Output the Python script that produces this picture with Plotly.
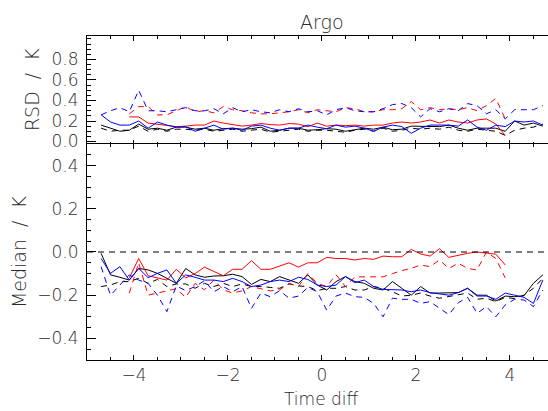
import plotly.graph_objects as go
from plotly.subplots import make_subplots

# Bin centres of the time difference
time_diff = [-4.7, -4.5, -4.3, -4.1, -3.9, -3.7, -3.5, -3.3, -3.1, -2.9, -2.7, -2.5,
             -2.3, -2.1, -1.9, -1.7, -1.5, -1.3, -1.1, -0.9, -0.7, -0.5, -0.3, -0.1,
             0.1, 0.3, 0.5, 0.7, 0.9, 1.1, 1.3, 1.5, 1.7, 1.9, 2.1, 2.3, 2.5, 2.7,
             2.9, 3.1, 3.3, 3.5, 3.7, 3.9, 4.1, 4.3, 4.5, 4.7]

# Robust standard deviation (K)
rsd_black_solid = [0.16, 0.13, 0.10, 0.11, 0.17, 0.12, 0.13, 0.11, 0.14, 0.14, 0.12, 0.13,
                   0.11, 0.125, 0.13, 0.12, 0.125, 0.14, 0.10, 0.11, 0.13, 0.13, 0.11, 0.115,
                   0.125, 0.12, 0.10, 0.115, 0.13, 0.12, 0.14, 0.115, 0.12, 0.15, 0.15, 0.145,
                   0.145, 0.16, 0.13, 0.11, 0.13, 0.13, 0.13, 0.10, 0.20, 0.16, 0.18, 0.15]
rsd_black_dash = [0.13, 0.10, 0.11, 0.11, 0.15, 0.10, 0.12, 0.10, 0.12, 0.12, 0.11, 0.12,
                  0.10, 0.11, 0.12, 0.10, 0.11, 0.12, 0.09, 0.10, 0.11, 0.12, 0.10, 0.11,
                  0.11, 0.10, 0.09, 0.11, 0.12, 0.10, 0.13, 0.10, 0.11, 0.13, 0.12, 0.13,
                  0.12, 0.14, 0.11, 0.10, 0.12, 0.11, 0.10, 0.06, 0.11, 0.13, 0.14, 0.17]
rsd_blue_solid = [0.26, 0.19, 0.16, 0.16, 0.20, 0.13, 0.19, 0.16, 0.14, 0.145, 0.10, 0.13,
                  0.16, 0.12, 0.13, 0.11, 0.15, 0.16, 0.13, 0.11, 0.13, 0.13, 0.16, 0.14,
                  0.125, 0.16, 0.14, 0.15, 0.13, 0.10, 0.14, 0.16, 0.145, 0.08, 0.13, 0.16,
                  0.16, 0.16, 0.15, 0.21, 0.14, 0.11, 0.16, 0.145, 0.20, 0.19, 0.20, 0.16]
rsd_blue_dash = [0.26, 0.30, 0.33, 0.29, 0.50, 0.30, 0.30, 0.29, 0.31, 0.33, 0.30, 0.30,
                 0.32, 0.27, 0.33, 0.29, 0.31, 0.29, 0.28, 0.31, 0.29, 0.32, 0.29, 0.30,
                 0.26, 0.31, 0.33, 0.30, 0.29, 0.29, 0.32, 0.36, 0.37, 0.33, 0.24, 0.32,
                 0.29, 0.32, 0.30, 0.37, 0.35, 0.27, 0.31, 0.22, 0.31, 0.31, 0.31, 0.35]
# red series only cover -4.1 ... 3.9
rsd_red_solid = [0.24, 0.24, 0.18, 0.17, 0.16, 0.145, 0.15, 0.16, 0.16, 0.20, 0.18, 0.165,
                 0.15, 0.16, 0.175, 0.165, 0.16, 0.175, 0.17, 0.145, 0.18,
                 0.15, 0.16, 0.155, 0.16, 0.15, 0.16, 0.16, 0.18, 0.19, 0.18, 0.19, 0.21,
                 0.18, 0.21, 0.19, 0.18, 0.21, 0.22, 0.17, 0.06]
rsd_red_dash = [0.27, 0.34, 0.34, 0.26, 0.26, 0.30, 0.34, 0.29, 0.30, 0.28, 0.34, 0.31,
                0.30, 0.28, 0.27, 0.27, 0.28, 0.29, 0.31, 0.28, 0.31,
                0.30, 0.29, 0.33, 0.32, 0.29, 0.29, 0.31, 0.31, 0.32, 0.39, 0.31, 0.33,
                0.31, 0.32, 0.31, 0.33, 0.30, 0.35, 0.42, 0.22]

# Median difference (K)
med_black_solid = [-0.006, -0.106, -0.117, -0.13, -0.076, -0.083, -0.099, -0.122, -0.145, -0.076,
                   -0.106, -0.117, -0.111, -0.11, -0.103, -0.114, -0.15, -0.127, -0.137, -0.114,
                   -0.13, -0.145, -0.106, -0.153,
                   -0.176, -0.137, -0.114, -0.137, -0.145, -0.168, -0.176, -0.137, -0.168, -0.2,
                   -0.16, -0.19, -0.19, -0.19, -0.188, -0.168, -0.2, -0.2, -0.227, -0.204,
                   -0.207, -0.202, -0.145, -0.106]
med_black_dash = [-0.16, -0.153, -0.137, -0.137, -0.122, -0.145, -0.127, -0.16, -0.148, -0.148,
                  -0.168, -0.145, -0.16, -0.145, -0.16, -0.148, -0.16, -0.16, -0.164, -0.168,
                  -0.148, -0.157, -0.16, -0.179,
                  -0.168, -0.168, -0.16, -0.176, -0.176, -0.16, -0.168, -0.184, -0.204, -0.2,
                  -0.19, -0.204, -0.214, -0.207, -0.2, -0.19, -0.219, -0.214, -0.23, -0.21,
                  -0.216, -0.2, -0.168, -0.122]
med_blue_solid = [-0.03, -0.099, -0.068, -0.13, -0.076, -0.119, -0.099, -0.083, -0.145, -0.106,
                  -0.117, -0.13, -0.13, -0.137, -0.122, -0.137, -0.16, -0.153, -0.137, -0.13,
                  -0.137, -0.117, -0.127, -0.153,
                  -0.16, -0.153, -0.114, -0.142, -0.13, -0.16, -0.173, -0.176, -0.176, -0.184,
                  -0.176, -0.188, -0.194, -0.2, -0.188, -0.168, -0.204, -0.204, -0.219, -0.19,
                  -0.2, -0.21, -0.238, -0.13]
med_blue_dash = [-0.068, -0.2, -0.153, -0.106, -0.13, -0.145, -0.2, -0.276, -0.157, -0.179,
                 -0.16, -0.133, -0.184, -0.16, -0.184, -0.16, -0.261, -0.19, -0.207, -0.179,
                 -0.214, -0.204, -0.164, -0.184,
                 -0.269, -0.204, -0.19, -0.207, -0.21, -0.238, -0.3, -0.214, -0.219, -0.219,
                 -0.238, -0.23, -0.26, -0.29, -0.235, -0.21, -0.284, -0.253, -0.3, -0.245,
                 -0.219, -0.222, -0.253, -0.176]
med_red_solid = [-0.12, -0.03, -0.11, -0.12, -0.13, -0.08, -0.12, -0.10, -0.07, -0.09, -0.11,
                 -0.08, -0.08, -0.04, -0.08, -0.08, -0.065, -0.05, -0.07, -0.05, -0.05,
                 -0.025, -0.03, -0.03, -0.037, -0.03, -0.034, -0.019, -0.022, -0.022, 0.012,
                 -0.009, -0.019, 0.015, -0.025, -0.014, -0.006, 0.0, -0.006, -0.01, -0.06]
med_red_dash = [-0.19, -0.05, -0.2, -0.19, -0.18, -0.17, -0.21, -0.145, -0.175, -0.13, -0.175,
                -0.19, -0.18, -0.16, -0.17, -0.18, -0.175, -0.145, -0.16, -0.1, -0.145,
                -0.16, -0.105, -0.16, -0.115, -0.115, -0.117, -0.115, -0.1, -0.086, -0.076,
                -0.06, -0.068, -0.037, -0.076, -0.052, -0.076, -0.083, 0.0, -0.03, -0.12]

RED_LEAD, RED_TAIL = 3, 4  # bins without red data at both ends


def pad_red(vals):
    return [None] * RED_LEAD + list(vals) + [None] * RED_TAIL


DASH = "6px,5px"
FONT = "DejaVu Sans"
INK = "#2a2a2a"
NB = "\u00a0"

fig = make_subplots(rows=2, cols=1, shared_xaxes=True, vertical_spacing=0)

panels = [
    (1, [(rsd_black_dash, "black", DASH), (rsd_black_solid, "black", "solid"),
         (pad_red(rsd_red_dash), "red", DASH), (pad_red(rsd_red_solid), "red", "solid"),
         (rsd_blue_dash, "blue", DASH), (rsd_blue_solid, "blue", "solid")]),
    (2, [(med_black_dash, "black", DASH), (med_black_solid, "black", "solid"),
         (pad_red(med_red_dash), "red", DASH), (pad_red(med_red_solid), "red", "solid"),
         (med_blue_dash, "blue", DASH), (med_blue_solid, "blue", "solid")]),
]
for row, series in panels:
    for vals, color, dash in series:
        fig.add_trace(
            go.Scatter(x=time_diff, y=vals, mode="lines", connectgaps=False,
                       line=dict(color=color, width=1, dash=dash),
                       hoverinfo="skip"),
            row=row, col=1)

# zero reference in the median panel
fig.add_hline(y=0, row=2, col=1, line=dict(color="black", width=1.2, dash=DASH))

tick_font = dict(family=FONT, size=17, color=INK, weight=200)
common_x = dict(range=[-5, 4.81], showline=True, linecolor="black", linewidth=1,
                mirror="ticks", ticks="inside", ticklen=5, tickcolor="black",
                tick0=0, dtick=2, showgrid=False, zeroline=False,
                minor=dict(ticks="inside", ticklen=3, dtick=0.5, tick0=0, tickcolor="black"))
common_y = dict(showline=True, linecolor="black", linewidth=1, ticks="inside",
                ticklen=9, tickcolor="black", showgrid=False, zeroline=False,
                tickformat=".1f", tickfont=tick_font, ticklabelstandoff=4,
                minor=dict(ticks="inside", ticklen=4, dtick=0.05, tick0=0, tickcolor="black"))

fig.update_xaxes(**common_x, showticklabels=False, row=1, col=1)
fig.update_xaxes(**common_x, showticklabels=True, tickfont=tick_font,
                 ticklabelstandoff=0, row=2, col=1)
fig.update_yaxes(**common_y, range=[-0.034, 1.029], tickmode="array",
                 tickvals=[0.0, 0.2, 0.4, 0.6, 0.8], row=1, col=1)
fig.update_yaxes(**common_y, range=[-0.5, 0.5], tick0=0, dtick=0.2, row=2, col=1)

fig.update_layout(
    width=548, height=411,
    margin=dict(l=87, r=0, t=36, b=51),
    paper_bgcolor="white", plot_bgcolor="white",
    showlegend=False,
    font=dict(family=FONT, size=17, color=INK),
)
fig.layout.yaxis.domain = [0.6636, 1.0]
fig.layout.yaxis2.domain = [0.0, 0.6667]

label_font = dict(family=FONT, size=19, color=INK, weight=200)
fig.add_annotation(text="Argo", xref="x2", yref="paper", x=0, y=1.043,
                   xanchor="center", yanchor="middle", showarrow=False, font=label_font)
fig.add_annotation(text="Time diff", xref="x2", yref="paper", x=0, y=-0.1215,
                   xanchor="center", yanchor="middle", showarrow=False, borderpad=0,
                   font=dict(family=FONT, size=17, color=INK, weight=200))
fig.add_annotation(text=f"RSD{NB}{NB}/{NB}{NB}K", xref="paper", yref="paper",
                   x=-0.1193, y=0.833, xanchor="center", yanchor="middle",
                   textangle=-90, showarrow=False, font=label_font)
fig.add_annotation(text=f"Median{NB}{NB}/{NB}{NB}K", xref="paper", yref="paper",
                   x=-0.1475, y=0.333, xanchor="center", yanchor="middle",
                   textangle=-90, showarrow=False, font=label_font)

fig.write_html("out.html")
